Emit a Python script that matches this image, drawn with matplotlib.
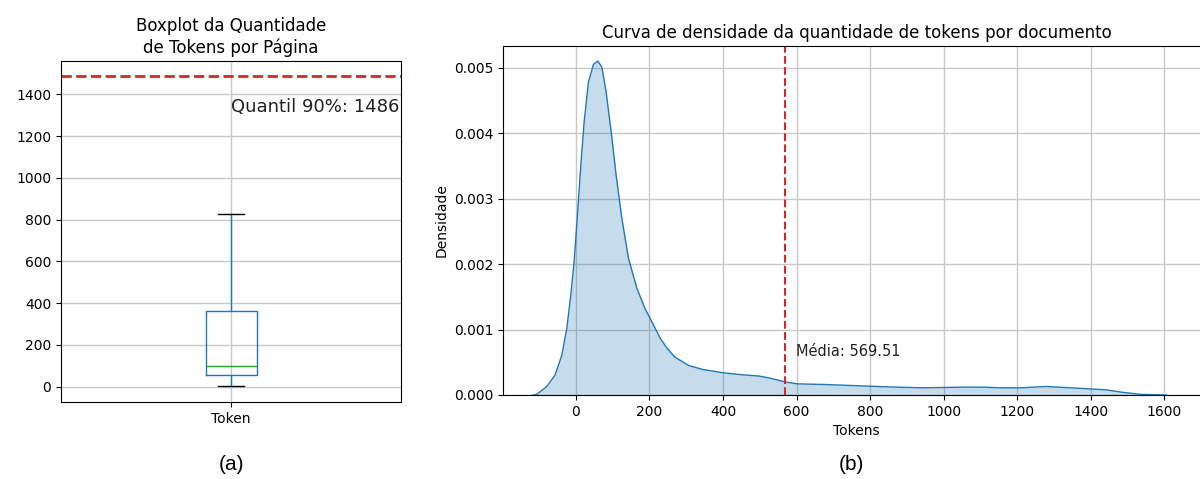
import matplotlib
matplotlib.use("Agg")
import matplotlib.pyplot as plt

# ---- data ----
box_label = ["Token"]
box_whislo = 2
box_q1 = 57
box_median = 100
box_q3 = 363
box_whishi = 828
quantil_90 = 1486

dens_x = [-116, -106, -79, -56, -38, -24.5, -13.6, -4.6, 4.4, 13.6, 22.6, 34.3, 48, 59.7,
          70.6, 82.3, 96, 109.5, 125, 143, 166, 188, 202, 230, 250, 269, 307, 345, 400,
          450, 497, 526, 569, 602, 678, 773, 869, 945, 1059, 1107, 1154, 1211, 1278,
          1345, 1440, 1488, 1535, 1605]
dens_y = [0.0, 0.00001, 0.00013, 0.00031, 0.00061, 0.00102, 0.00153, 0.00204, 0.00275,
          0.00351, 0.00417, 0.00478, 0.00505, 0.0051, 0.00501, 0.00463, 0.00402, 0.00336,
          0.0027, 0.00209, 0.00163, 0.00132, 0.00117, 0.00086, 0.0007, 0.00058, 0.00045,
          0.00039, 0.00034, 0.00031, 0.00029, 0.00026, 0.0002, 0.00017, 0.00016, 0.00014,
          0.00012, 0.00011, 0.00012, 0.00012, 0.00011, 0.00011, 0.00013, 0.00011, 0.00008,
          0.00004, 0.00001, 0.0]
media = 569.51

fig = plt.figure(figsize=(12, 4.79), dpi=100)

# ---- left: boxplot ----
ax1 = fig.add_axes([61/1200, 1-402/479, 340/1200, 341/479])
stats = [dict(label=box_label[0], whislo=box_whislo, q1=box_q1, med=box_median,
              q3=box_q3, whishi=box_whishi, fliers=[])]
ax1.bxp(stats, positions=[1], widths=0.15, showfliers=False,
        boxprops=dict(color="#1f77b4"), whiskerprops=dict(color="#1f77b4"),
        medianprops=dict(color="#2ca02c"), capprops=dict(color="black"))
ax1.axhline(quantil_90, color="#d62728", linestyle="--", linewidth=2)
ax1.text(1.0, quantil_90 * 0.9, f"Quantil 90%: {quantil_90}", fontsize=13,
         ha="left", va="center", color="#222222")
ax1.set_xlim(0.5, 1.5)
ax1.set_ylim(-74, 1560)
ax1.grid(True, color="#c8c8c8", linewidth=1)
ax1.set_axisbelow(True)
ax1.set_title("Boxplot da Quantidade\nde Tokens por Página", fontsize=12, pad=6)
ax1.tick_params(labelsize=10)

# ---- right: density ----
ax2 = fig.add_axes([503/1200, 1-395/479, 707/1200, 349/479])
ax2.fill_between(dens_x, dens_y, color="#1f77b4", alpha=0.25, linewidth=0)
ax2.plot(dens_x, dens_y, color="#1f77b4", linewidth=1)
ax2.axvline(media, color="#d62728", linestyle="--", linewidth=1.5)
ax2.text(media + 30, 0.00067, f"Média: {media}", fontsize=10.5, ha="left", va="center",
         color="#222222")
ax2.set_xlim(-198, 1724)
ax2.set_ylim(0, 0.00533)
ax2.set_xticks(range(0, 1601, 200))
ax2.set_yticks([0, 0.001, 0.002, 0.003, 0.004, 0.005])
ax2.set_yticklabels(["0.000", "0.001", "0.002", "0.003", "0.004", "0.005"])
ax2.grid(True, color="#c8c8c8", linewidth=1)
ax2.set_axisbelow(True)
ax2.set_title("Curva de densidade da quantidade de tokens por documento", fontsize=12, pad=6)
ax2.set_xlabel("Tokens", fontsize=10)
ax2.set_ylabel("Densidade", fontsize=10)
ax2.tick_params(labelsize=10)

fig.text(231/1200, 1-465/479, "(a)", fontsize=15, family="Liberation Sans",
         ha="center", va="center")
fig.text(851/1200, 1-465/479, "(b)", fontsize=15, family="Liberation Sans",
         ha="center", va="center")

fig.savefig("out.png", dpi=100)
